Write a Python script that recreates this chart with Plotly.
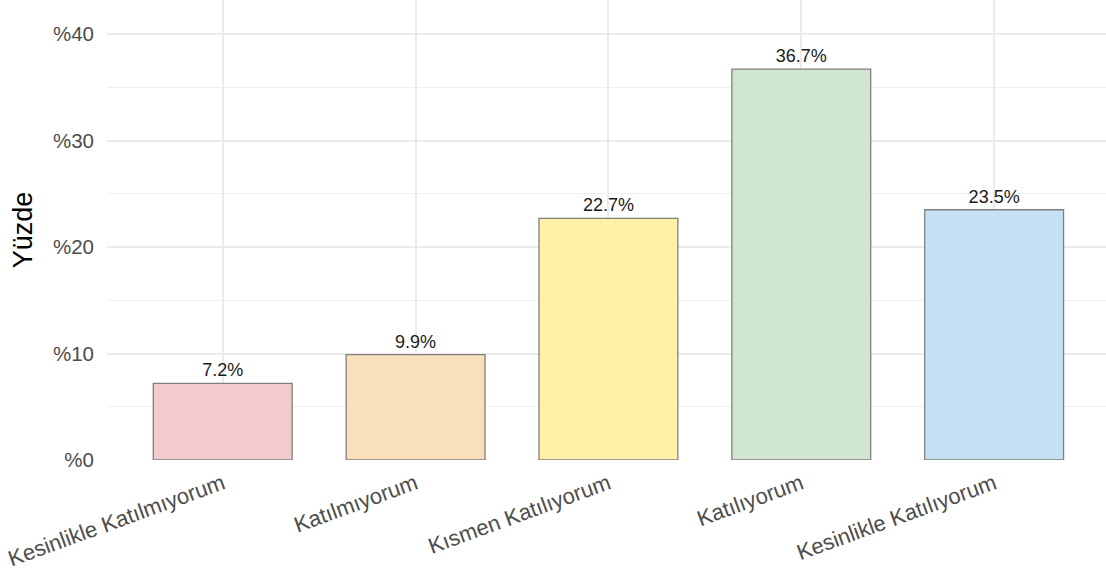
import plotly.graph_objects as go

categories = [
    "Kesinlikle Katılmıyorum",
    "Katılmıyorum",
    "Kısmen Katılıyorum",
    "Katılıyorum",
    "Kesinlikle Katılıyorum",
]
percentages = [7.2, 9.9, 22.7, 36.7, 23.5]
bar_colors = ["#F2CBCE", "#F8E0BA", "#FFF1A8", "#D1E6CF", "#C5E1F3"]
y_ticks = [0, 10, 20, 30, 40]

FONT = "Liberation Sans, Arial, sans-serif"

fig = go.Figure(
    go.Bar(
        x=list(range(len(categories))),
        y=percentages,
        width=0.72,
        marker=dict(color=bar_colors, line=dict(color="#7F7F7F", width=1.3)),
        text=[f"{v:.1f}%" for v in percentages],
        textposition="outside",
        textfont=dict(family=FONT, size=18, color="#1A1A1A"),
        cliponaxis=False,
        hoverinfo="skip",
    )
)

fig.update_layout(
    width=1106,
    height=575,
    margin=dict(l=107, r=0, t=0, b=115),
    paper_bgcolor="white",
    plot_bgcolor="white",
    showlegend=False,
    font=dict(family=FONT),
    bargap=0.28,
)

fig.update_xaxes(
    range=[-0.6, 4.58],
    tickmode="array",
    tickvals=list(range(len(categories))),
    ticktext=categories,
    tickangle=-20,
    tickfont=dict(family=FONT, size=22, color="#4D4D4D"),
    showgrid=True,
    gridcolor="#EBEBEB",
    gridwidth=2,
    zeroline=False,
    showline=False,
    ticks="",
    ticklabelstandoff=6,
)

fig.update_yaxes(
    range=[0, 43.2],
    tickmode="array",
    tickvals=y_ticks,
    ticktext=[f"%{t}" for t in y_ticks],
    tickfont=dict(family=FONT, size=20.5, color="#4D4D4D"),
    showgrid=True,
    gridcolor="#EBEBEB",
    gridwidth=2,
    minor=dict(tickvals=[5, 15, 25, 35, 45], showgrid=True, gridcolor="#EFEFEF", gridwidth=1.2),
    zeroline=False,
    showline=False,
    ticks="",
    ticklabelstandoff=12,
    title=dict(text="Yüzde", font=dict(family=FONT, size=27, color="black"), standoff=12),
)

fig.write_html("out.html")
